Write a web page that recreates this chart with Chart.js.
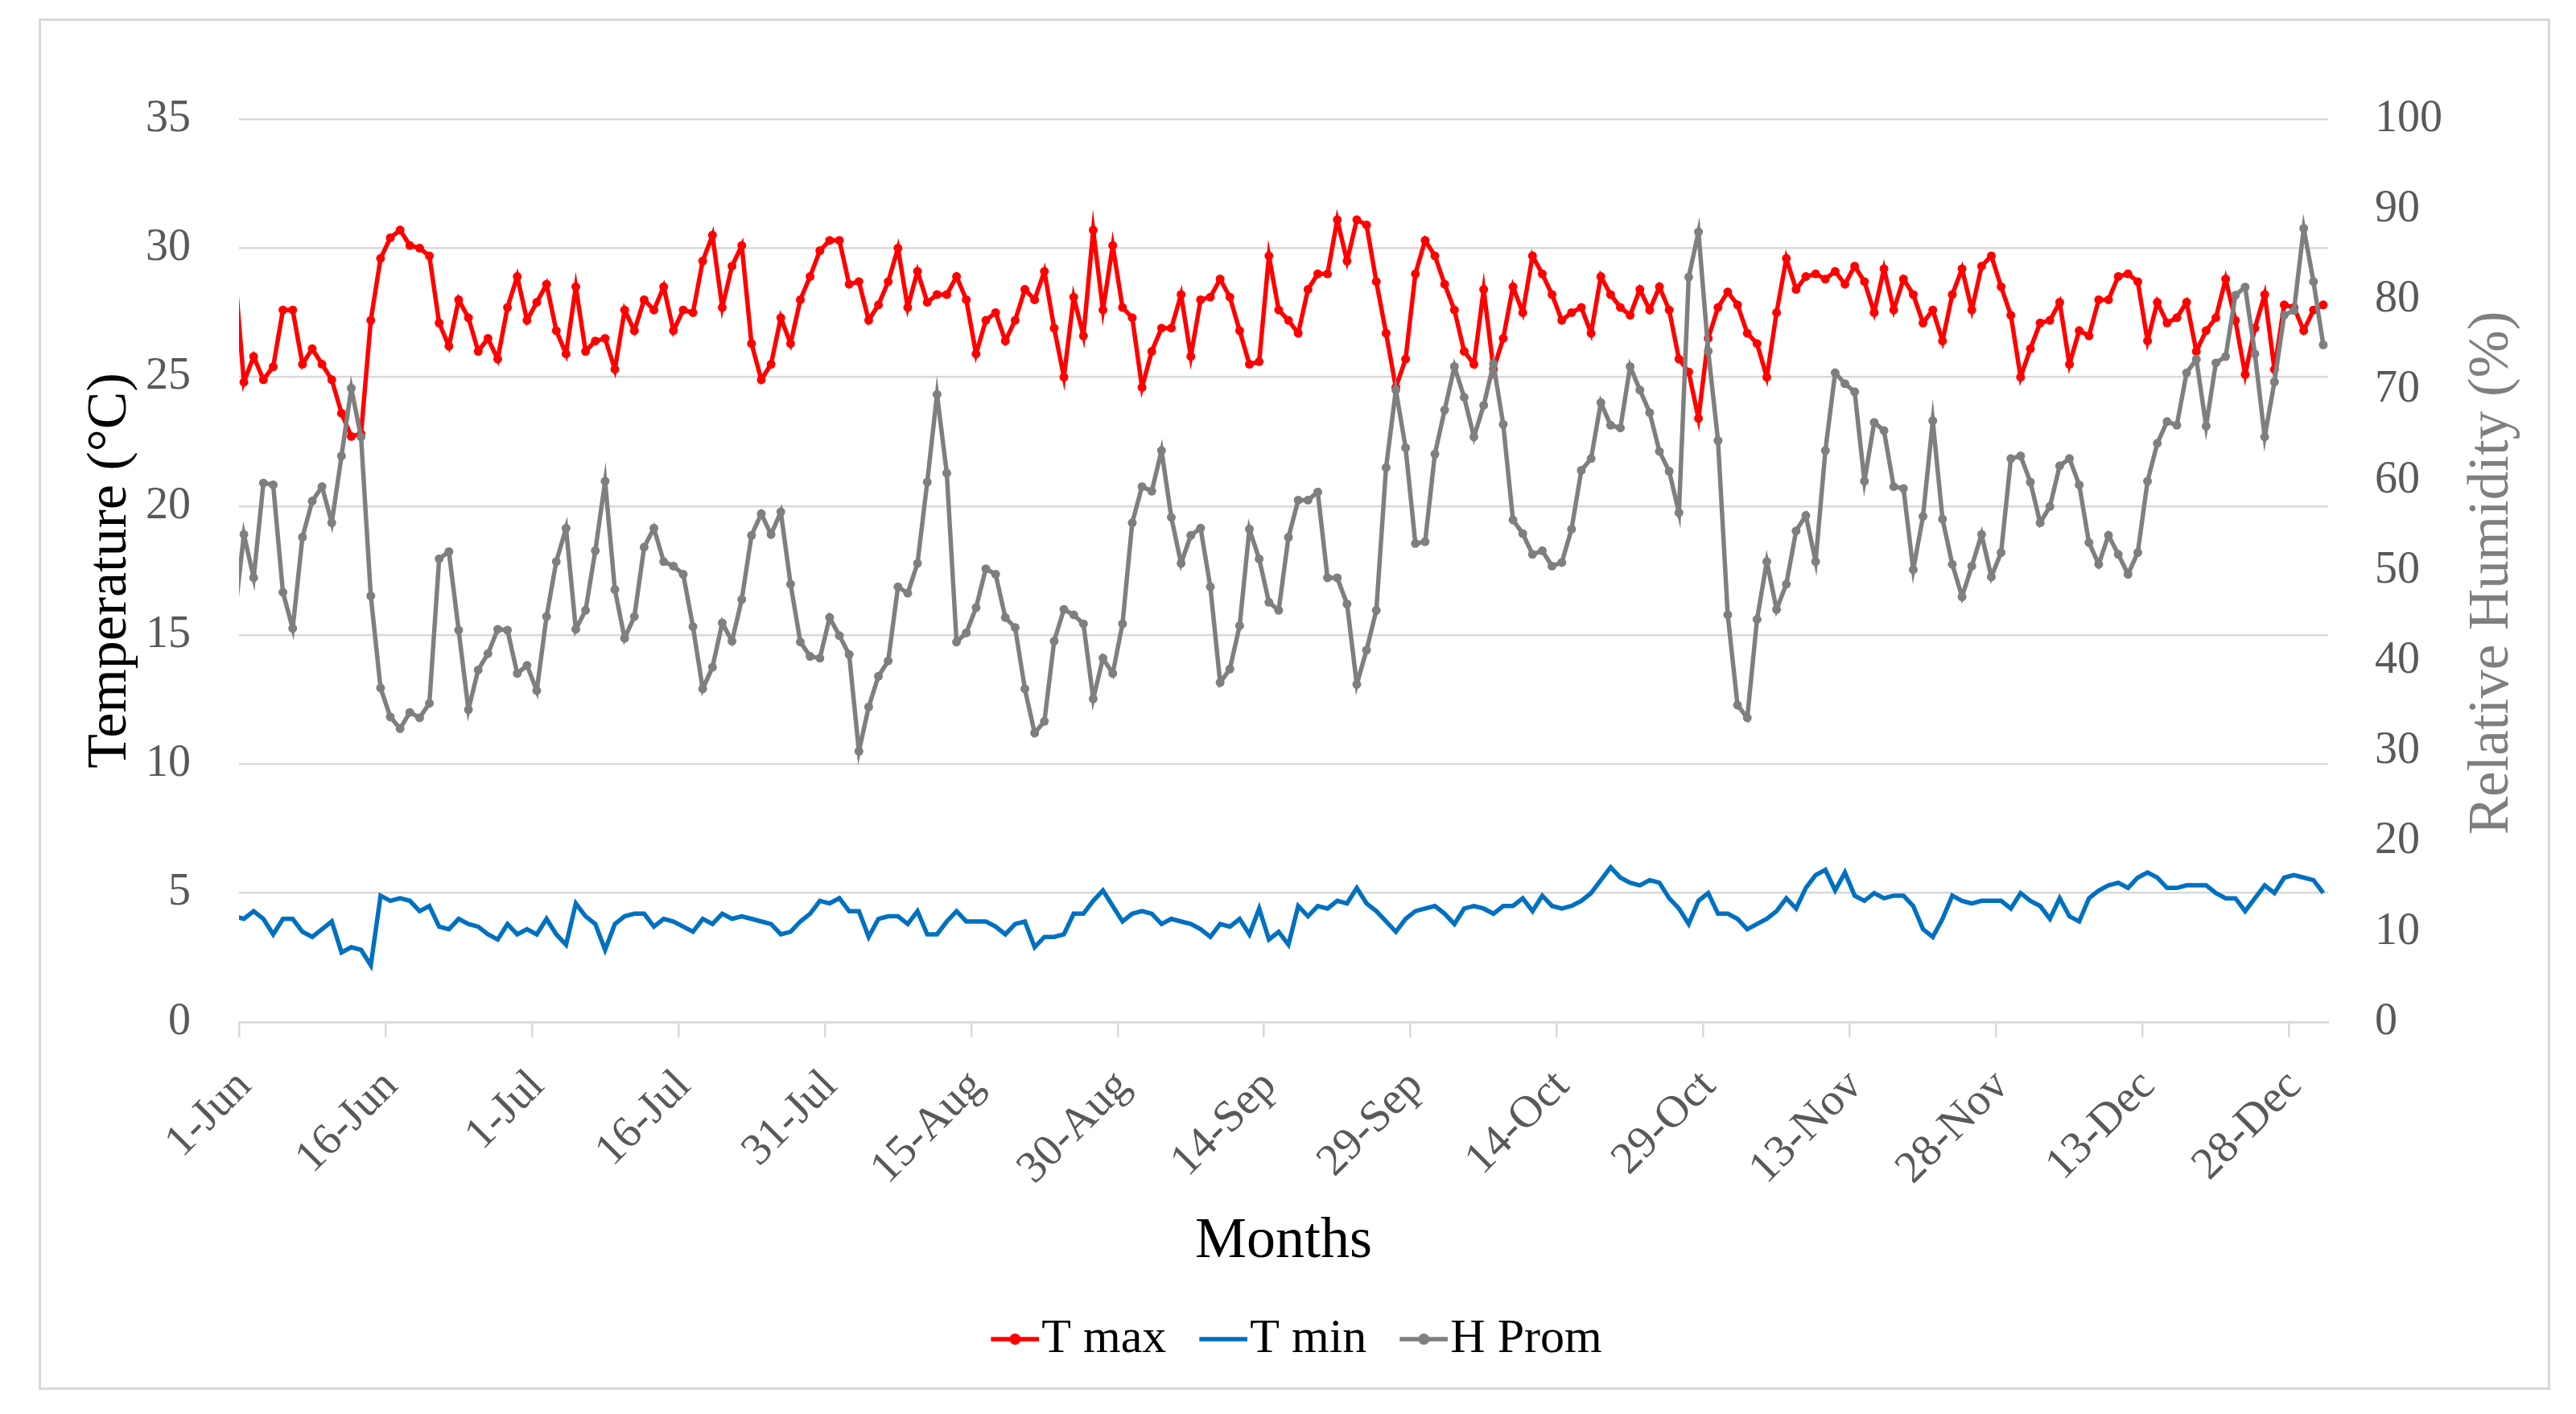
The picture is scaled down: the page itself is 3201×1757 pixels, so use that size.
<!DOCTYPE html>
<html>
<head>
<meta charset="utf-8">
<title>Temperature and humidity</title>
<script src="https://cdn.jsdelivr.net/npm/chart.js@4.4.1/dist/chart.umd.min.js"></script>
<style>
  html, body { margin: 0; padding: 0; background: #fff; }
  #wrap { position: relative; width: 3201px; height: 1757px; }
</style>
</head>
<body>
<div id="wrap"><canvas id="chart" width="3201" height="1757"></canvas></div>
<script>
// daily values, first entry is 31-May (only its edge shows), then 1-Jun .. 31-Dec
const tMax = [29.4,
  24.8, 25.8, 24.9, 25.4, 27.6, 27.6, 25.5, 26.1, 25.5, 24.9, 23.6, 22.7, 22.8, 27.2, 29.6, 30.4, 30.7, 30.1, 30.0, 29.7,
  27.1, 26.2, 28.0, 27.3, 26.0, 26.5, 25.7, 27.7, 28.9, 27.2, 27.9, 28.6, 26.8, 25.9, 28.5, 26.0,
  26.4, 26.5, 25.3, 27.6, 26.8, 28.0, 27.6, 28.5, 26.8, 27.6, 27.5, 29.5, 30.5, 27.7, 29.3, 30.1, 26.3, 24.9, 25.5, 27.3,
  26.3, 28.0, 28.9, 29.9, 30.3, 30.3, 28.6, 28.7, 27.2, 27.8, 28.7, 30.0, 27.7, 29.1, 27.9, 28.2,
  28.2, 28.9, 28.0, 25.9, 27.2, 27.5, 26.4, 27.2, 28.4, 28.0, 29.1, 26.9, 25.0, 28.1, 26.6, 30.7, 27.6, 30.1, 27.7, 27.3,
  24.6, 26.0, 26.9, 26.9, 28.2, 25.8, 28.0, 28.1, 28.8, 28.1, 26.8, 25.5, 25.6, 29.7, 27.6, 27.2,
  26.7, 28.4, 29.0, 29.0, 31.1, 29.5, 31.1, 30.9, 28.7, 26.7, 24.6, 25.7, 29.0, 30.3, 29.7, 28.6, 27.6, 26.0, 25.5, 28.4,
  25.3, 26.5, 28.5, 27.5, 29.7, 29.0, 28.2, 27.2, 27.5, 27.7, 26.7, 28.9, 28.2, 27.7, 27.4, 28.4,
  27.6, 28.5, 27.6, 25.7, 25.2, 23.4, 26.5, 27.7, 28.3, 27.8, 26.7, 26.3, 25.0, 27.5, 29.6, 28.4, 28.9, 29.0, 28.8, 29.1,
  28.6, 29.3, 28.7, 27.5, 29.2, 27.6, 28.8, 28.2, 27.1, 27.6, 26.4, 28.2, 29.2, 27.6, 29.3, 29.7,
  28.5, 27.4, 25.0, 26.1, 27.1, 27.2, 27.9, 25.5, 26.8, 26.6, 28.0, 28.0, 28.9, 29.0, 28.7, 26.4, 27.9, 27.1, 27.3, 27.9,
  26.0, 26.8, 27.3, 28.8, 27.2, 25.1, 26.9, 28.2, 25.3, 27.8, 27.7, 26.8, 27.6, 27.8];

const tMin = [4.1,
  4.0, 4.3, 4.0, 3.4, 4.0, 4.0, 3.5, 3.3, 3.6, 3.9, 2.7, 2.9, 2.8, 2.2, 4.9, 4.7, 4.8, 4.7, 4.3, 4.5,
  3.7, 3.6, 4.0, 3.8, 3.7, 3.4, 3.2, 3.8, 3.4, 3.6, 3.4, 4.0, 3.4, 3.0, 4.6, 4.1,
  3.8, 2.8, 3.8, 4.1, 4.2, 4.2, 3.7, 4.0, 3.9, 3.7, 3.5, 4.0, 3.8, 4.2, 4.0, 4.1, 4.0, 3.9, 3.8, 3.4,
  3.5, 3.9, 4.2, 4.7, 4.6, 4.8, 4.3, 4.3, 3.3, 4.0, 4.1, 4.1, 3.8, 4.3, 3.4, 3.4,
  3.9, 4.3, 3.9, 3.9, 3.9, 3.7, 3.4, 3.8, 3.9, 2.9, 3.3, 3.3, 3.4, 4.2, 4.2, 4.7, 5.1, 4.5, 3.9, 4.2,
  4.3, 4.2, 3.8, 4.0, 3.9, 3.8, 3.6, 3.3, 3.8, 3.7, 4.0, 3.4, 4.4, 3.2, 3.5, 3.0,
  4.5, 4.1, 4.5, 4.4, 4.7, 4.6, 5.2, 4.6, 4.3, 3.9, 3.5, 4.0, 4.3, 4.4, 4.5, 4.2, 3.8, 4.4, 4.5, 4.4,
  4.2, 4.5, 4.5, 4.8, 4.3, 4.9, 4.5, 4.4, 4.5, 4.7, 5.0, 5.5, 6.0, 5.6, 5.4, 5.3,
  5.5, 5.4, 4.8, 4.4, 3.8, 4.7, 5.0, 4.2, 4.2, 4.0, 3.6, 3.8, 4.0, 4.3, 4.8, 4.4, 5.2, 5.7, 5.9, 5.1,
  5.8, 4.9, 4.7, 5.0, 4.8, 4.9, 4.9, 4.5, 3.6, 3.3, 4.0, 4.9, 4.7, 4.6, 4.7, 4.7,
  4.7, 4.4, 5.0, 4.7, 4.5, 4.0, 4.8, 4.1, 3.9, 4.8, 5.1, 5.3, 5.4, 5.2, 5.6, 5.8, 5.6, 5.2, 5.2, 5.3,
  5.3, 5.3, 5.0, 4.8, 4.8, 4.3, 4.8, 5.3, 5.0, 5.6, 5.7, 5.6, 5.5, 5.0];

const hProm = [44.4,
  54.0, 49.2, 59.7, 59.5, 47.6, 43.6, 53.7, 57.7, 59.3, 55.3, 62.7, 70.2, 64.8, 47.2, 37.0, 33.8, 32.5, 34.3, 33.7, 35.3,
  51.3, 52.1, 43.4, 34.6, 39.0, 40.8, 43.5, 43.4, 38.6, 39.5, 36.7, 44.9, 51.0, 54.7, 43.5, 45.6,
  52.2, 59.9, 47.9, 42.5, 44.9, 52.6, 54.7, 51.0, 50.5, 49.6, 43.8, 36.9, 39.3, 44.2, 42.2, 46.8, 53.9, 56.3, 54.0, 56.5,
  48.5, 42.1, 40.5, 40.3, 44.8, 42.8, 40.7, 30.0, 34.9, 38.3, 40.0, 48.2, 47.5, 50.8, 59.8, 69.5,
  60.8, 42.1, 43.1, 45.9, 50.2, 49.6, 44.8, 43.7, 36.9, 32.0, 33.3, 42.2, 45.7, 45.1, 44.1, 35.8, 40.3, 38.6, 44.1, 55.3,
  59.3, 58.8, 63.3, 55.9, 50.8, 53.9, 54.7, 48.2, 37.6, 39.1, 43.9, 54.6, 51.3, 46.5, 45.6, 53.7,
  57.8, 57.8, 58.7, 49.2, 49.2, 46.3, 37.4, 41.2, 45.6, 61.4, 70.0, 63.6, 53.0, 53.2, 62.9, 67.8, 72.6, 69.2, 64.8, 68.3,
  72.9, 66.2, 55.6, 54.1, 51.8, 52.2, 50.5, 50.9, 54.6, 61.1, 62.4, 68.6, 66.1, 65.8, 72.6, 70.0,
  67.5, 63.2, 61.0, 56.4, 82.5, 87.5, 74.3, 64.4, 45.1, 35.1, 33.7, 44.6, 51.0, 45.7, 48.5, 54.4, 56.1, 51.0, 63.3, 71.9,
  70.7, 69.8, 59.9, 66.4, 65.5, 59.3, 59.1, 50.1, 56.0, 66.6, 55.7, 50.7, 47.1, 50.5, 54.0, 49.3,
  52.0, 62.4, 62.7, 59.8, 55.3, 57.1, 61.6, 62.4, 59.5, 53.1, 50.7, 53.9, 51.8, 49.6, 52.0, 59.9, 64.1, 66.5, 66.1, 71.9,
  73.4, 66.0, 73.0, 73.7, 80.5, 81.4, 74.0, 64.8, 70.9, 78.3, 78.8, 87.9, 82.0, 75.0];

// x axis: days counted from 1-Jun, one tick every 15 days
const tickDays = [0, 15, 30, 45, 60, 75, 90, 105, 120, 135, 150, 165, 180, 195, 210];
const tickLabels = ['1-Jun', '16-Jun', '1-Jul', '16-Jul', '31-Jul', '15-Aug', '30-Aug', '14-Sep',
  '29-Sep', '14-Oct', '29-Oct', '13-Nov', '28-Nov', '13-Dec', '28-Dec'];
const totalDays = 214;

const seriesNames = ['T max', 'T min', 'H Prom'];
const seriesColors = ['#ff0000', '#0070c0', '#7f7f7f'];

// each value sits in the middle of its day (index 0 is the day before 1-Jun)
const toPoints = arr => arr.map((v, i) => ({ x: i - 0.5, y: v }));

const serif = '"Liberation Serif", "DejaVu Serif", serif';

// legend symbol: a short line, with a dot for the series that have markers
function legendSymbol(color, dot) {
  const c = document.createElement('canvas');
  c.width = 88; c.height = 30;
  const g = c.getContext('2d');
  g.strokeStyle = color;
  g.lineWidth = 5.5;
  g.beginPath(); g.moveTo(28, 15); g.lineTo(88, 15); g.stroke();
  if (dot) {
    g.fillStyle = color;
    g.beginPath(); g.arc(58, 15, 7, 0, Math.PI * 2); g.fill();
  }
  return c;
}

const frame = {
  id: 'frame',
  beforeDraw(chart) {
    const ctx = chart.ctx;
    ctx.save();
    ctx.fillStyle = '#ffffff';
    ctx.fillRect(0, 0, chart.width, chart.height);
    ctx.strokeStyle = '#d9d9d9';
    ctx.lineWidth = 3;
    ctx.strokeRect(49.5, 24.5, 3118, 1701);
    ctx.restore();
  }
};

// the right title reads bottom to top, like the left one
const rightTitle = {
  id: 'rightTitle',
  afterDraw(chart) {
    const { ctx, chartArea } = chart;
    const scale = chart.scales.yH;
    ctx.save();
    ctx.translate(scale.left + 204, (chartArea.top + chartArea.bottom) / 2 + 3);
    ctx.rotate(-Math.PI / 2);
    ctx.font = '71px ' + serif;
    ctx.fillStyle = '#7f7f7f';
    ctx.textAlign = 'center';
    ctx.textBaseline = 'middle';
    ctx.fillText('Relative Humidity (%)', 0, 0);
    ctx.restore();
  }
};

const tickFont = { family: serif, size: 56 };

new Chart(document.getElementById('chart'), {
  type: 'line',
  data: {
    datasets: [
      {
        label: seriesNames[0],
        data: toPoints(tMax),
        yAxisID: 'yT',
        borderColor: seriesColors[0],
        backgroundColor: seriesColors[0],
        borderWidth: 5.5,
        pointRadius: 5.5,
        pointBorderWidth: 0,
        pointBackgroundColor: seriesColors[0],
        order: 3,
        clip: 0
      },
      {
        label: seriesNames[1],
        data: toPoints(tMin),
        yAxisID: 'yT',
        borderColor: seriesColors[1],
        backgroundColor: seriesColors[1],
        borderWidth: 5.5,
        pointRadius: 0,
        order: 2,
        clip: 0
      },
      {
        label: seriesNames[2],
        data: toPoints(hProm),
        yAxisID: 'yH',
        borderColor: seriesColors[2],
        backgroundColor: seriesColors[2],
        borderWidth: 5.5,
        pointRadius: 5.5,
        pointBorderWidth: 0,
        pointBackgroundColor: seriesColors[2],
        order: 1,
        clip: 0
      }
    ]
  },
  options: {
    responsive: false,
    animation: false,
    devicePixelRatio: 1,
    layout: { padding: { left: 20, right: 0, top: 148, bottom: 53 } },
    scales: {
      x: {
        type: 'linear',
        min: 0,
        max: totalDays,
        afterBuildTicks: s => { s.ticks = tickDays.map(v => ({ value: v })); },
        afterFit: s => { s.height = 324; },
        ticks: {
          autoSkip: false,
          minRotation: 45,
          maxRotation: 45,
          padding: 28,
          labelOffset: 7,
          color: '#595959',
          font: tickFont,
          callback: v => tickLabels[tickDays.indexOf(v)]
        },
        grid: {
          drawOnChartArea: false,
          drawTicks: true,
          tickLength: 19,
          color: '#d9d9d9',
          lineWidth: 2.5
        },
        border: { display: true, color: '#d9d9d9', width: 2.5 },
        title: {
          display: true,
          text: 'Months',
          color: '#000000',
          font: { family: serif, size: 72, lineHeight: 1 },
          padding: { top: 0, bottom: 15 }
        }
      },
      yT: {
        position: 'left',
        min: 0,
        max: 35,
        afterFit: s => { s.width = 277; },
        ticks: { stepSize: 5, padding: 60, color: '#595959', font: tickFont },
        grid: { color: '#d9d9d9', lineWidth: 2.5, drawTicks: false },
        border: { display: false },
        title: {
          display: true,
          text: 'Temperature (°C)',
          color: '#000000',
          font: { family: serif, size: 70, lineHeight: 1 },
          padding: { top: 83, bottom: 0 }
        }
      },
      yH: {
        position: 'right',
        min: 0,
        max: 100,
        afterFit: s => { s.width = 308; },
        ticks: { stepSize: 10, padding: 58, color: '#595959', font: tickFont },
        grid: { drawOnChartArea: false, drawTicks: false },
        border: { display: false }
      }
    },
    plugins: {
      tooltip: { enabled: false },
      legend: {
        position: 'bottom',
        labels: {
          usePointStyle: true,
          pointStyleWidth: 34,
          padding: 40,
          color: '#595959',
          font: { family: serif, size: 60 },
          generateLabels: () => seriesNames.map((name, i) => ({
            text: name,
            fillStyle: seriesColors[i],
            strokeStyle: seriesColors[i],
            lineWidth: 0,
            pointStyle: legendSymbol(seriesColors[i], i !== 1),
            hidden: false,
            datasetIndex: i
          }))
        }
      }
    }
  },
  plugins: [frame, rightTitle]
});
</script>
</body>
</html>
